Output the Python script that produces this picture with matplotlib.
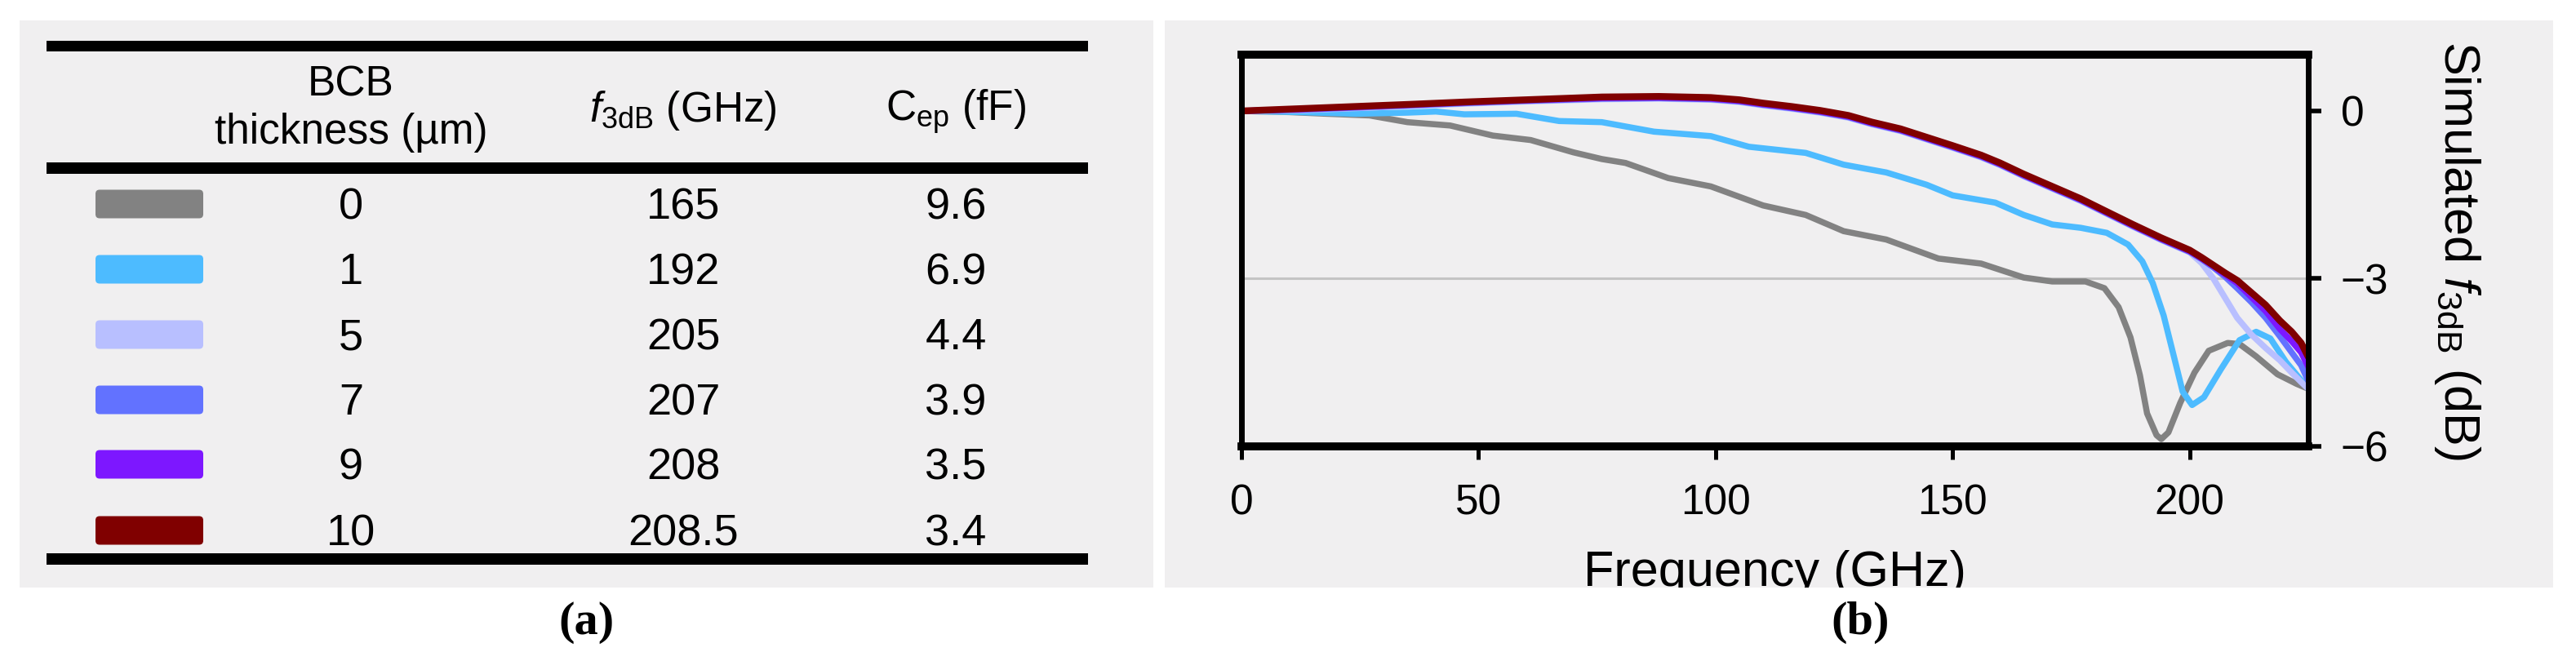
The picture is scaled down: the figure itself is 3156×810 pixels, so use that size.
import matplotlib
matplotlib.use('Agg')
import matplotlib.pyplot as plt
from matplotlib.patches import Rectangle, FancyBboxPatch

plt.rcParams['font.family'] = ['Liberation Sans', 'DejaVu Sans']
plt.rcParams['mathtext.fontset'] = 'custom'
plt.rcParams['mathtext.rm'] = 'Liberation Sans'
plt.rcParams['mathtext.it'] = 'Liberation Sans:italic'
plt.rcParams['mathtext.bf'] = 'Liberation Sans:bold'

# ---------------- data ----------------
thickness = ['0', '1', '5', '7', '9', '10']
f3db_vals = ['165', '192', '205', '207', '208', '208.5']
cep_vals = ['9.6', '6.9', '4.4', '3.9', '3.5', '3.4']
colors = ['#828282', '#4dbbff', '#b8bfff', '#6272ff', '#7d17ff', '#800000']

x_t0 = [0, 10, 18, 27, 35, 44, 53, 61, 70, 76, 81, 90, 99, 110, 119, 127, 136, 147,
        156, 165, 171, 178, 182, 185, 187.5, 189.5, 191, 193, 194, 195.5, 198, 201,
        204, 208, 210.5, 214, 218.5, 222.5, 225]
y_t0 = [0, -0.02, -0.05, -0.08, -0.20, -0.26, -0.44, -0.52, -0.74, -0.86, -0.93, -1.20,
        -1.35, -1.69, -1.86, -2.15, -2.30, -2.64, -2.73, -2.98, -3.05, -3.05, -3.17,
        -3.51, -4.05, -4.73, -5.41, -5.80, -5.87, -5.75, -5.22, -4.68, -4.29, -4.15,
        -4.17, -4.39, -4.71, -4.88, -4.97]

x_t1 = [0, 12, 24, 35, 41, 47, 58, 67, 76, 87, 99, 107, 119, 127, 136, 144.5, 150, 159,
        165, 171, 177, 182.5, 187, 190, 192.2, 194.5, 196.8, 198.5, 200.5, 203, 206.5,
        210.5, 214, 217, 220.3, 225]
y_t1 = [0, -0.02, -0.05, -0.03, -0.01, -0.06, -0.05, -0.18, -0.20, -0.37, -0.45, -0.64,
        -0.75, -0.96, -1.10, -1.32, -1.51, -1.64, -1.86, -2.03, -2.09, -2.18, -2.39,
        -2.69, -3.08, -3.66, -4.44, -5.02, -5.26, -5.12, -4.63, -4.10, -3.95, -4.07,
        -4.49, -4.97]

x_top = [0, 12, 24, 36, 47, 60, 76, 88, 99, 105, 110, 116, 122, 128, 133, 139, 144.5,
         150, 156, 160, 165, 171, 177, 182, 188, 194, 200, 202.5, 205, 207.5, 210, 213,
         216, 219, 221.5, 223.5, 225]
y_t10 = [0, 0.04, 0.08, 0.12, 0.16, 0.20, 0.25, 0.26, 0.24, 0.20, 0.14, 0.08, 0.01,
         -0.08, -0.20, -0.32, -0.47, -0.62, -0.79, -0.93, -1.13, -1.35, -1.57, -1.78,
         -2.03, -2.27, -2.49, -2.62, -2.76, -2.90, -3.03, -3.25, -3.47, -3.75, -3.95,
         -4.15, -4.40]
y_t9 = [0, 0.03, 0.07, 0.11, 0.15, 0.19, 0.23, 0.24, 0.22, 0.18, 0.12, 0.06, -0.01,
        -0.10, -0.22, -0.34, -0.49, -0.64, -0.81, -0.95, -1.15, -1.37, -1.59, -1.80,
        -2.05, -2.29, -2.51, -2.64, -2.78, -2.93, -3.08, -3.33, -3.58, -3.90, -4.12,
        -4.32, -4.58]
y_t7 = [0, 0.02, 0.06, 0.10, 0.14, 0.18, 0.22, 0.23, 0.21, 0.17, 0.11, 0.05, -0.02,
        -0.11, -0.23, -0.35, -0.50, -0.65, -0.82, -0.96, -1.16, -1.38, -1.60, -1.81,
        -2.06, -2.30, -2.52, -2.65, -2.80, -2.97, -3.17, -3.42, -3.70, -4.03, -4.32,
        -4.55, -4.83]
y_t5 = [0, 0.01, 0.05, 0.09, 0.13, 0.17, 0.21, 0.22, 0.20, 0.16, 0.10, 0.04, -0.03,
        -0.12, -0.24, -0.36, -0.51, -0.66, -0.83, -0.97, -1.17, -1.39, -1.61, -1.82,
        -2.07, -2.31, -2.53, -2.72, -3.00, -3.35, -3.70, -4.00, -4.24, -4.46, -4.68,
        -4.85, -4.97]

x_ticks = [0, 50, 100, 150, 200]
y_ticks = [0, -3, -6]

# ---------------- figure ----------------
W, H, DPI = 3156, 810, 100
PANEL = '#f0eff0'
fig = plt.figure(figsize=(W / DPI, H / DPI), dpi=DPI, facecolor='white')

bg = fig.add_axes([0, 0, 1, 1], zorder=0)
bg.set_xlim(0, W)
bg.set_ylim(H, 0)
bg.axis('off')

bg.add_patch(Rectangle((24, 25), 1389, 695, fc=PANEL, ec='none'))
bg.add_patch(Rectangle((1427, 25), 1701, 695, fc=PANEL, ec='none'))

# table rules
for y0, h in [(50, 13), (199, 14), (678, 14)]:
    bg.add_patch(Rectangle((57, y0), 1276, h, fc='black', ec='none'))

col_x = [430, 837, 1171]
TH = 37
bg.text(col_x[0], 117, 'BCB', ha='center', va='baseline', fontsize=TH)
bg.text(col_x[0], 176, 'thickness (µm)', ha='center', va='baseline', fontsize=TH)
bg.text(col_x[1], 149, r'$\mathit{f}_{\mathrm{3dB}}$ (GHz)', ha='center', va='baseline', fontsize=TH)
bg.text(col_x[2], 148, r'$\mathrm{C}_{\mathrm{ep}}$ (fF)', ha='center', va='baseline', fontsize=TH)

row_y = [250, 330, 410, 490, 569, 650]
for i in range(len(thickness)):
    yc = row_y[i]
    bg.add_patch(FancyBboxPatch((117, yc - 17.5), 132, 35,
                                boxstyle='round,pad=0,rounding_size=5',
                                fc=colors[i], ec='none'))
    for cx, txt in zip(col_x, [thickness[i], f3db_vals[i], cep_vals[i]]):
        bg.text(cx, yc + 18.5, txt, ha='center', va='baseline', fontsize=39)

# ---------------- plot ----------------
ax = fig.add_axes([1521 / W, 1 - 547 / H, (2828 - 1521) / W, (547 - 67) / H], zorder=1)
ax.set_facecolor(PANEL)
ax.set_xlim(0, 225)
ax.set_ylim(-6, 1.007)

ax.axhline(-3, color='#c4c4c4', lw=2.2, zorder=1)
series = [(x_t0, y_t0), (x_t1, y_t1), (x_top, y_t5), (x_top, y_t7), (x_top, y_t9), (x_top, y_t10)]
for (xs, ys), c in zip(series, colors):
    lw = 6.0 if c == '#800000' else 5.4
    ax.plot(xs, ys, color=c, lw=lw, solid_capstyle='round', solid_joinstyle='round', zorder=2)

for s in ['left', 'right']:
    ax.spines[s].set_linewidth(5)
for s in ['top', 'bottom']:
    ax.spines[s].set_linewidth(7)
for s in ax.spines.values():
    s.set_color('black')
    s.set_capstyle('projecting')
    s.set_zorder(3)

ax.set_xticks(x_ticks)
ax.set_xticklabels([str(v) for v in x_ticks])
ax.tick_params(axis='x', direction='out', length=11.5, width=3.6, pad=21, labelsize=37)
ax.yaxis.tick_right()
ax.set_yticks(y_ticks)
ax.tick_params(axis='y', direction='out', length=11.5, width=4, pad=17, labelsize=37,
               right=True, left=False)

ax.set_xlabel('Frequency (GHz)', fontsize=44)
ax.xaxis.set_label_coords(0.5, -(718 - 547) / 480)
ax.xaxis.label.set_va('baseline')

ax.yaxis.set_label_position('right')
ax.set_ylabel(r'Simulated $\mathit{f}_{\mathrm{3dB}}$ (dB)', fontsize=44)
ax.yaxis.label.set(rotation=-90, rotation_mode='default', ha='center', va='center')
ax.yaxis.set_label_coords((3010 - 1521) / 1307, 0.5)

# ---------------- overlay ----------------
ov = fig.add_axes([0, 0, 1, 1], zorder=2)
ov.set_xlim(0, W)
ov.set_ylim(H, 0)
ov.axis('off')
ov.add_patch(Rectangle((0, 720), W, 90, fc='white', ec='none'))
for x0, lab in [(719, '(a)'), (2279, '(b)')]:
    ov.text(x0, 763, lab, ha='center', va='center', fontsize=42, fontweight='bold',
            family=['Liberation Serif', 'DejaVu Serif'])

fig.savefig('out.png', dpi=DPI, facecolor='white')
